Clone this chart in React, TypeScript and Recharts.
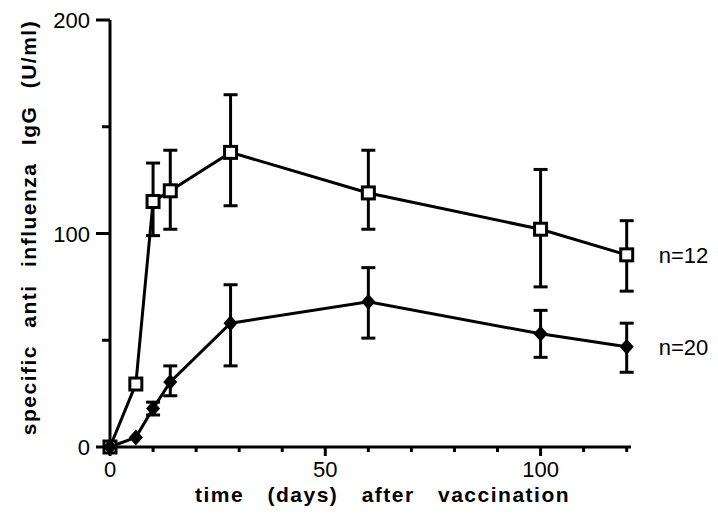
import React from "react";
import { LineChart, Line, XAxis, YAxis, ErrorBar, Label } from "recharts";

// sampling days after vaccination
const days = [0, 6, 10, 14, 28, 60, 100, 120];

// n=12 group (open squares)
const n12Mean = [0, 29.5, 115, 120, 138, 119, 102, 90];
const n12Upper = [null, null, 133, 139, 165, 139, 130, 106];
const n12Lower = [null, null, 99, 102, 113, 102, 75, 73];

// n=20 group (filled diamonds)
const n20Mean = [0, 4.5, 18, 30.5, 58, 68, 53, 47];
const n20Upper = [null, null, 21, 38, 76, 84, 64, 58];
const n20Lower = [null, null, 15, 24, 38, 51, 42, 35];

const xTicks = [0, 10, 20, 30, 40, 50, 60, 70, 80, 90, 100, 110, 120];
const xLabels = [0, 50, 100];
const yTicks = [0, 50, 100, 150, 200];
const yLabels = [0, 100, 200];

const FONT = "'Liberation Sans', Arial, Helvetica, sans-serif";

const err = (mean: number, up: number | null, lo: number | null) =>
  up == null || lo == null ? null : [mean - lo, up - mean];

const data = days.map((d, i) => ({
  day: d,
  a: n12Mean[i],
  aErr: err(n12Mean[i], n12Upper[i], n12Lower[i]),
  b: n20Mean[i],
  bErr: err(n20Mean[i], n20Upper[i], n20Lower[i]),
}));

const SquareDot = (props: any) => {
  const { cx, cy, index } = props;
  if (cx == null || cy == null) return null;
  return (
    <rect
      key={`sq-${index}`}
      x={cx - 6}
      y={cy - 6}
      width={12}
      height={12}
      fill="#fff"
      stroke="#000"
      strokeWidth={3}
    />
  );
};

const DiamondDot = (props: any) => {
  const { cx, cy, index } = props;
  if (cx == null || cy == null) return null;
  return (
    <polygon
      key={`dm-${index}`}
      points={`${cx},${cy - 8} ${cx + 7},${cy} ${cx},${cy + 8} ${cx - 7},${cy}`}
      fill="#000"
    />
  );
};

const XTick = (props: any) => {
  const { x, y, payload } = props;
  const major = xLabels.includes(payload.value);
  return (
    <g>
      <line x1={x} y1={y} x2={x} y2={y + (major ? 9 : 5)} stroke="#000" strokeWidth={3} />
      {major && (
        <text x={x} y={y + 30} textAnchor="middle" fontSize={22} fontFamily={FONT} fill="#000">
          {payload.value}
        </text>
      )}
    </g>
  );
};

const YTick = (props: any) => {
  const { x, y, payload } = props;
  const major = yLabels.includes(payload.value);
  return (
    <g>
      <line x1={x - (major ? 14 : 8)} y1={y} x2={x} y2={y} stroke="#000" strokeWidth={3} />
      {major && (
        <text x={x - 20} y={y + 8} textAnchor="end" fontSize={22} fontFamily={FONT} fill="#000">
          {payload.value}
        </text>
      )}
    </g>
  );
};

const endLabel = (text: string) => (props: any) => {
  const { x, y, index } = props;
  if (index !== days.length - 1) return null;
  return (
    <text key={text} x={x + 32} y={y + 8} fontSize={22} fontFamily={FONT} fill="#000">
      {text}
    </text>
  );
};

export default function App() {
  return (
    <div style={{ position: "absolute", left: 0, top: 0, background: "#fff" }}>
      <LineChart
        width={718}
        height={517}
        data={data}
        margin={{ top: 20, right: 87, left: 0, bottom: 0 }}
      >
        <XAxis
          dataKey="day"
          type="number"
          domain={[0, 121]}
          ticks={xTicks}
          interval={0}
          height={70}
          tickSize={0}
          tickMargin={0}
          tickLine={false}
          tick={<XTick />}
          axisLine={{ stroke: "#000", strokeWidth: 3 }}
        >
          <Label
            content={(p: any) => {
              const vb = p.viewBox;
              return (
                <text
                  x={vb.x + vb.width / 2 + 12}
                  y={vb.y + 55}
                  textAnchor="middle"
                  fontSize={21}
                  fontWeight="bold"
                  fontFamily={FONT}
                  letterSpacing={1.5}
                  wordSpacing={16}
                  fill="#000"
                >
                  time (days) after vaccination
                </text>
              );
            }}
          />
        </XAxis>
        <YAxis
          type="number"
          domain={[0, 200]}
          ticks={yTicks}
          interval={0}
          width={110}
          tickSize={0}
          tickMargin={0}
          tickLine={false}
          tick={<YTick />}
          axisLine={{ stroke: "#000", strokeWidth: 3 }}
        >
          <Label
            content={(p: any) => {
              const vb = p.viewBox;
              const cx = vb.x + 28;
              const cy = vb.y + vb.height / 2 - 6;
              return (
                <text
                  x={cx}
                  y={cy}
                  transform={`rotate(-90 ${cx} ${cy})`}
                  textAnchor="middle"
                  dominantBaseline="central"
                  fontSize={21}
                  fontWeight="bold"
                  fontFamily={FONT}
                  letterSpacing={1.5}
                  wordSpacing={10}
                  fill="#000"
                >
                  specific anti influenza IgG (U/ml)
                </text>
              );
            }}
          />
        </YAxis>
        <Line
          dataKey="a"
          stroke="#000"
          strokeWidth={3}
          dot={<SquareDot />}
          activeDot={false}
          isAnimationActive={false}
          label={endLabel("n=12")}
        >
          <ErrorBar dataKey="aErr" width={7} strokeWidth={3} stroke="#000" direction="y" />
        </Line>
        <Line
          dataKey="b"
          stroke="#000"
          strokeWidth={3}
          dot={<DiamondDot />}
          activeDot={false}
          isAnimationActive={false}
          label={endLabel("n=20")}
        >
          <ErrorBar dataKey="bErr" width={7} strokeWidth={3} stroke="#000" direction="y" />
        </Line>
      </LineChart>
    </div>
  );
}
